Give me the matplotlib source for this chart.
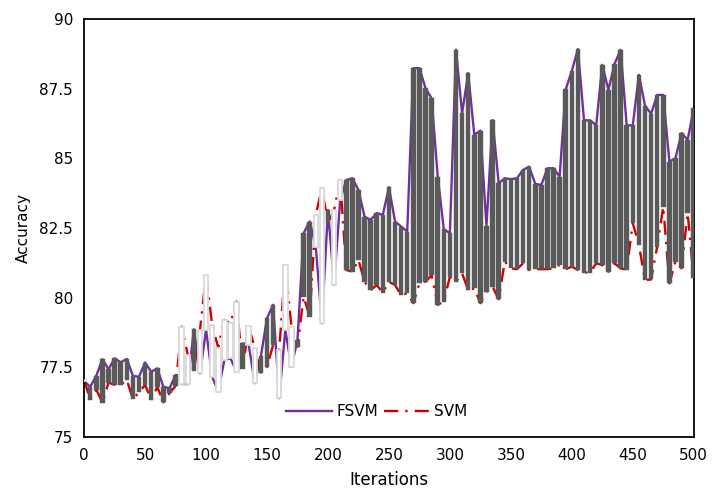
import numpy as np
import matplotlib.pyplot as plt

# accuracy, one point every 5 iterations
iterations = np.arange(0, 501, 5)

fsvm = [77.0, 76.8, 77.2, 77.79, 77.43, 77.82, 77.68, 77.8, 77.19, 77.16,
        77.67, 77.34, 77.46, 76.8, 76.75, 77.22, 76.9, 76.9, 78.86, 77.28,
        78.84, 77.16, 76.63, 77.76, 77.82, 77.34, 78.36, 78.3, 76.93, 77.9,
        79.26, 79.74, 76.39, 78.84, 77.52, 78.48, 82.31, 82.73, 81.83, 79.08,
        83.14, 80.45, 83.5, 84.22, 84.28, 83.86, 82.9, 82.79, 83.03, 82.97,
        83.96, 82.73, 82.55, 82.37, 88.23, 88.23, 87.51, 87.15, 84.34, 82.45,
        82.31, 88.89, 86.61, 88.05, 85.84, 85.99, 82.57, 86.37, 84.1, 84.28,
        84.25, 84.28, 84.58, 84.7, 84.08, 84.04, 84.64, 84.64, 84.34, 87.47,
        88.14, 88.91, 86.36, 86.36, 86.18, 88.35, 87.45, 88.38, 88.89, 86.18,
        86.18, 87.99, 86.89, 86.59, 87.27, 87.27, 84.88, 85.0, 85.9, 85.66,
        86.79]

svm = [77.05, 76.33, 76.7, 76.23, 76.95, 76.87, 76.87, 77.05, 76.36, 76.6,
       76.87, 76.33, 76.8, 76.24, 76.57, 76.83, 78.96, 77.94, 77.38, 78.83,
       80.81, 79.02, 78.2, 79.2, 79.08, 79.86, 77.43, 78.98, 78.18, 77.31,
       77.52, 78.3, 78.12, 81.17, 78.96, 78.24, 80.03, 79.32, 82.97, 83.92,
       82.67, 83.14, 84.22, 80.99, 80.93, 81.35, 80.57, 80.27, 80.45, 80.18,
       80.57, 80.45, 80.09, 80.15, 79.8, 80.51, 80.57, 80.81, 79.74, 79.86,
       80.75, 80.57, 80.87, 80.27, 80.33, 79.8, 80.21, 80.39, 79.94, 81.29,
       81.05, 81.02, 81.23, 80.99, 81.02, 81.02, 81.02, 81.05, 81.17, 81.02,
       81.11, 80.99, 80.9, 80.9, 81.23, 81.17, 80.93, 81.23, 81.05, 81.0,
       82.67, 81.9, 80.63, 80.65, 81.83, 83.26, 80.51, 81.29, 81.05, 83.03,
       80.69]

y_ticks = [75, 77.5, 80, 82.5, 85, 87.5, 90]
y_labels = ["75", "77.5", "80", "82.5", "85", "87.5", "90"]

plt.rcParams["font.family"] = "DejaVu Sans"
plt.rcParams["font.size"] = 11

fig = plt.figure(figsize=(7.13, 4.96), dpi=100)
ax = fig.add_axes([0.118, 0.119, 0.855, 0.843])

f = np.array(fsvm)
s = np.array(svm)
up = f >= s

# lines first, up/down bars drawn over them
ax.plot(iterations, f, color="#7030A0", linewidth=1.7, label="FSVM", zorder=2)
ax.plot(iterations, s, color="#D00000", linewidth=1.7, linestyle=(0, (6, 3, 1, 3)),
        label="SVM", zorder=2)

ax.bar(iterations[up], (f - s)[up], bottom=s[up], width=3.7,
       color="#595959", edgecolor="#595959", linewidth=0.3, zorder=3)
ax.bar(iterations[~up], (s - f)[~up], bottom=f[~up], width=3.7,
       color="white", edgecolor="#d9d9d9", linewidth=1.3, zorder=3)

ax.set_xlim(0, 500)
ax.set_ylim(75, 90)
ax.set_xticks(np.arange(0, 501, 50))
ax.set_yticks(y_ticks)
ax.set_yticklabels(y_labels)
ax.tick_params(length=0, pad=8)
for sp in ax.spines.values():
    sp.set_linewidth(1.3)

ax.set_xlabel("Iterations", labelpad=6, fontsize=12)
ax.set_ylabel("Accuracy", labelpad=6)

ax.legend(loc="lower center", bbox_to_anchor=(0.48, 0.01), ncol=2, frameon=False,
          handlelength=3, columnspacing=0.4, handletextpad=0.3)

plt.savefig("out.png", dpi=100)
